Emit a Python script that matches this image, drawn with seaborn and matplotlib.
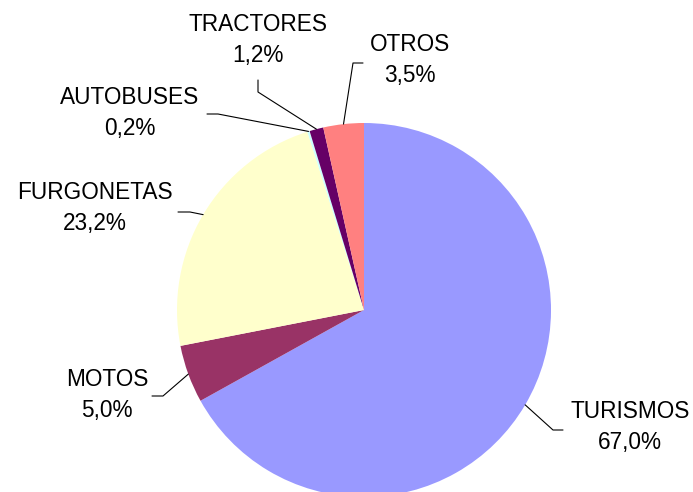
import numpy as np
import seaborn as sns
import matplotlib.pyplot as plt

sns.set_style("white")
plt.rcParams['font.family'] = ['Liberation Sans', 'DejaVu Sans']

categories = ["TURISMOS", "MOTOS", "FURGONETAS", "AUTOBUSES", "TRACTORES", "OTROS"]
values = [67.0, 5.0, 23.2, 0.2, 1.2, 3.5]
colors = ["#9999FF", "#993366", "#FFFFCC", "#CCFFFF", "#660066", "#FF8080"]

# label centre, elbow and end of leader line (pixel coords, y from bottom)
label_pos = [(630, 65), (107, 97), (95, 284), (130, 379), (258, 452), (410, 432)]
elbows = [(553, 62), (163, 96), (190, 280), (218, 378), (258, 400), (353, 429)]
ends = [(563, 62), (152, 96), (178, 280), (207, 378), (258, 412), (363, 429)]

fig = plt.figure(figsize=(6.93, 4.92), dpi=100)
ax = fig.add_axes([0, 0, 1, 1])
cx, cy, r = 364, 182, 187
wedges, _ = ax.pie(values, colors=colors, startangle=90, counterclock=False,
                   center=(cx, cy), radius=r, wedgeprops=dict(linewidth=0))
ax.set_xlim(0, 693)
ax.set_ylim(0, 492)
ax.set_aspect('equal')
ax.axis('off')

for w, cat, v, lp, el, en in zip(wedges, categories, values, label_pos, elbows, ends):
    ang = np.deg2rad((w.theta1 + w.theta2) / 2)
    ex, ey = cx + r * np.cos(ang), cy + r * np.sin(ang)
    ax.plot([ex, el[0], en[0]], [ey, el[1], en[1]], color="black", lw=0.8)
    txt = f"{cat}\n{v:.1f}%".replace('.', ',')
    ax.text(lp[0], lp[1], txt, ha="center", va="center", fontsize=16.3,
            linespacing=1.42, color="black")

fig.savefig("out.png", dpi=100)
